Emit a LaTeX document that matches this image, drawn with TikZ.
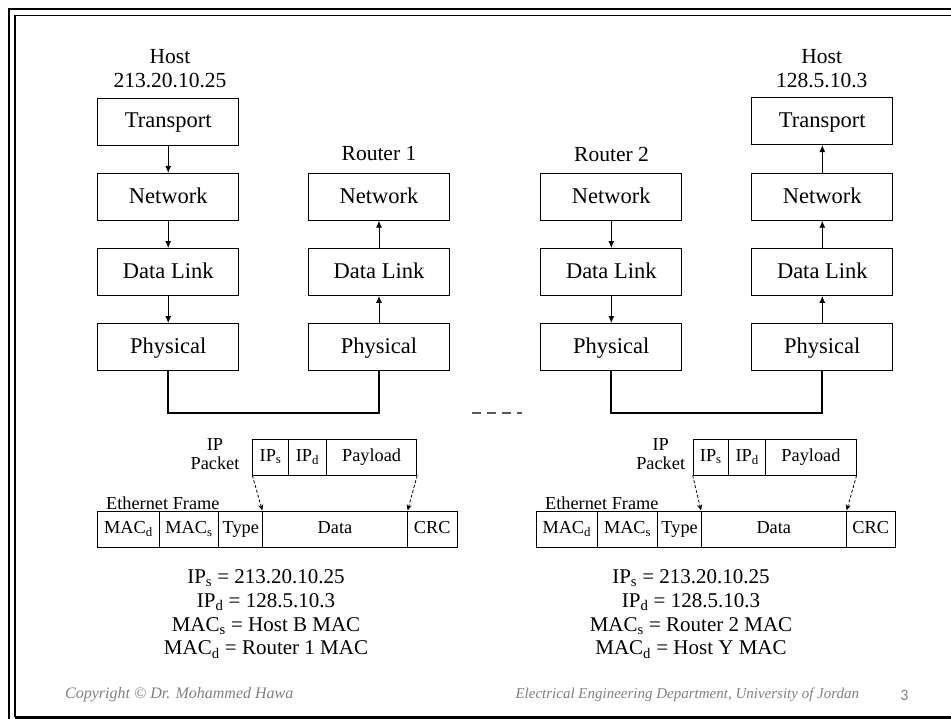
\documentclass[tikz,border=0pt]{standalone}
\usepackage{fontspec}
\setmainfont{Liberation Serif}
\setsansfont{Carlito}
\usetikzlibrary{arrows.meta}
\begin{document}
\begin{tikzpicture}[x=1pt,y=-1pt,
 layer/.style={draw, line width=0.9pt, minimum width=141pt, minimum height=47pt, inner sep=0pt, font=\fontsize{22.5}{24}\selectfont, text height=16pt, text depth=3.5pt},
 lbl/.style={font=\fontsize{21.5}{24}\selectfont, align=center, inner sep=0pt},
 flow/.style={line width=0.9pt, -{Latex[length=7pt,width=6pt]}},
 wire/.style={line width=2pt},
 cell/.style={draw, line width=0.9pt, anchor=west, minimum height=36pt, inner sep=0pt, font=\fontsize{18.3}{20}\selectfont, text height=12.5pt, text depth=4pt},
 small/.style={font=\fontsize{18.3}{19}\selectfont, inner sep=0pt, align=center},
 eq/.style={font=\fontsize{21}{23.7}\selectfont, align=center, inner sep=0pt},
 map/.style={line width=0.8pt, dash pattern=on 3pt off 2pt, -{Stealth[length=6pt,width=5pt]}},
 gap/.style={line width=2pt, draw=black!65, dash pattern=on 8.5pt off 6.5pt},
 foot/.style={font=\fontsize{16}{18}\selectfont\itshape, text=black!50, inner sep=0pt}]

\useasboundingbox (0,0) rectangle (951,719);

% slide frame
\draw[line width=2pt] (951,9) -- (8.5,9) -- (8.5,719);
\draw[line width=1.5pt] (951,15.5) -- (15,15.5) -- (15,716.5);
\draw[line width=3pt] (15,717) -- (951,717);

% left host
\node[lbl] (hlab) at (170,69) {Host\\213.20.10.25};
\node[layer] (hT) at (168.2,121.7) {Transport};
\node[layer] (hN) at (168.2,196.8) {Network};
\node[layer] (hD) at (168.2,272) {Data Link};
\node[layer] (hP) at (168.2,347) {Physical};
\draw[flow] (hT) -- (hN);
\draw[flow] (hN) -- (hD);
\draw[flow] (hD) -- (hP);

% router 1
\node[lbl] (r1lab) at (379,154) {Router 1};
\node[layer] (aN) at (379,196.8) {Network};
\node[layer] (aD) at (379,272) {Data Link};
\node[layer] (aP) at (379,347) {Physical};
\draw[flow] (aP) -- (aD);
\draw[flow] (aD) -- (aN);

% router 2
\node[lbl] (r2lab) at (611.5,154) {Router 2};
\node[layer] (bN) at (611.3,196.8) {Network};
\node[layer] (bD) at (611.3,272) {Data Link};
\node[layer] (bP) at (611.3,347) {Physical};
\draw[flow] (bN) -- (bD);
\draw[flow] (bD) -- (bP);

% right host
\node[lbl] (ylab) at (821.7,69) {Host\\128.5.10.3};
\node[layer] (yT) at (822.3,121.2) {Transport};
\node[layer] (yN) at (822.3,196.8) {Network};
\node[layer] (yD) at (822.3,272) {Data Link};
\node[layer] (yP) at (822.3,347) {Physical};
\draw[flow] (yP) -- (yD);
\draw[flow] (yD) -- (yN);
\draw[flow] (yN) -- (yT);

% links
\draw[wire] (hP.south) -- ++(0,41.8) -| (aP.south);
\draw[wire] (bP.south) -- ++(0,41.8) -| (yP.south);
\draw[gap] (472,412.7) -- (522,412.7);

% left packet / frame
\node[small] (lpl) at (215,454.5) {IP\\Packet};
\node[cell, minimum width=35.7pt] (lps) at (252.3,457) {IP\textsubscript{s}};
\node[cell, minimum width=38pt] (lpd) at (288,457) {IP\textsubscript{d}};
\node[cell, minimum width=90.3pt] (lpp) at (326,457) {Payload};
\node[small, anchor=west] (lfl) at (106,503) {Ethernet Frame};
\node[cell, minimum width=61.4pt, minimum height=36.7pt] (lf1) at (97.3,529.3) {MAC\textsubscript{d}};
\node[cell, minimum width=59.6pt, minimum height=36.7pt] (lf2) at (158.7,529.3) {MAC\textsubscript{s}};
\node[cell, minimum width=44pt, minimum height=36.7pt] (lf3) at (218.3,529.3) {Type};
\node[cell, minimum width=144.4pt, minimum height=36.7pt] (lf4) at (262.3,529.3) {Data};
\node[cell, minimum width=50.3pt, minimum height=36.7pt] (lf5) at (406.7,529.3) {CRC};
\draw[map] (lps.south west) -- (lf4.north west);
\draw[map] (lpp.south east) -- (lf4.north east);
\node[eq] (leq) at (266,614) {IP\textsubscript{s} = 213.20.10.25\\IP\textsubscript{d} = 128.5.10.3\\MAC\textsubscript{s} = Host B MAC\\MAC\textsubscript{d} = Router 1 MAC};

% right packet / frame
\node[small] (rpl) at (660.7,454.5) {IP\\Packet};
\node[cell, minimum width=35.3pt] (rps) at (692.7,457) {IP\textsubscript{s}};
\node[cell, minimum width=37.3pt] (rpd) at (728,457) {IP\textsubscript{d}};
\node[cell, minimum width=90.4pt] (rpp) at (765.3,457) {Payload};
\node[small, anchor=west] (rfl) at (545,503) {Ethernet Frame};
\node[cell, minimum width=61.3pt, minimum height=36.7pt] (rf1) at (535.7,529.3) {MAC\textsubscript{d}};
\node[cell, minimum width=60.3pt, minimum height=36.7pt] (rf2) at (597,529.3) {MAC\textsubscript{s}};
\node[cell, minimum width=43.7pt, minimum height=36.7pt] (rf3) at (657.3,529.3) {Type};
\node[cell, minimum width=144.7pt, minimum height=36.7pt] (rf4) at (701,529.3) {Data};
\node[cell, minimum width=49.3pt, minimum height=36.7pt] (rf5) at (845.7,529.3) {CRC};
\draw[map] (rps.south west) -- (rf4.north west);
\draw[map] (rpp.south east) -- (rf4.north east);
\node[eq] (req) at (691,614) {IP\textsubscript{s} = 213.20.10.25\\IP\textsubscript{d} = 128.5.10.3\\MAC\textsubscript{s} = Router 2 MAC\\MAC\textsubscript{d} = Host Y MAC};

% footer
\node[foot, anchor=west] (copy) at (65,695) {Copyright \textcopyright{} Dr. Mohammed Hawa};
\node[foot, anchor=east, font=\fontsize{15}{18}\selectfont\itshape] (dept) at (859.3,695) {Electrical Engineering Department, University of Jordan};
\node[foot, font=\fontsize{16}{18}\selectfont\sffamily] (page) at (904.3,695) {3};
\end{tikzpicture}
\end{document}
